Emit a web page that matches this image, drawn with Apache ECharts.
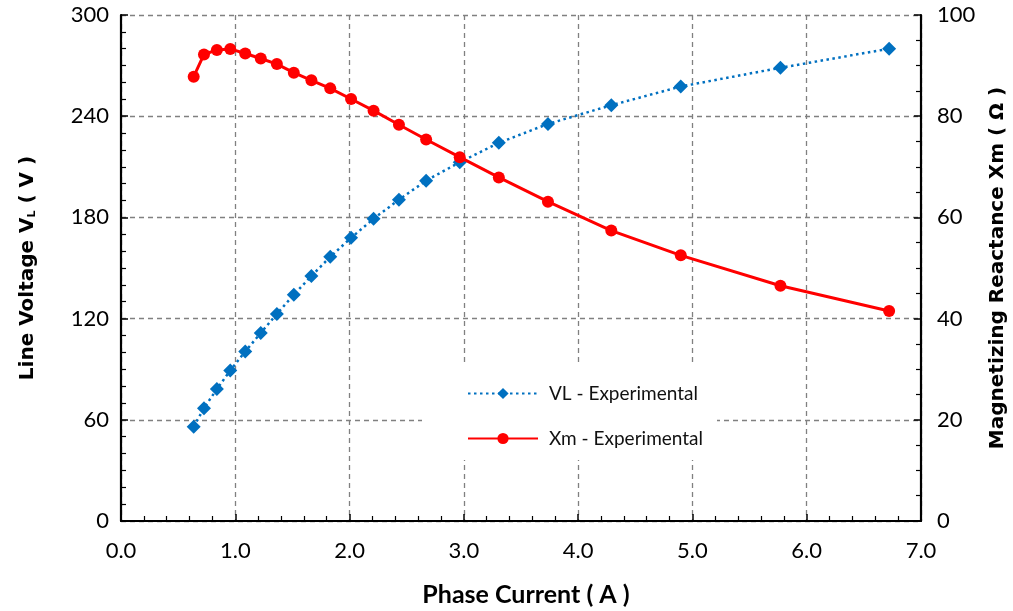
<!DOCTYPE html>
<html>
<head>
<meta charset="utf-8">
<script src="https://cdn.jsdelivr.net/npm/echarts@6/dist/echarts.min.js"></script>
<style>
html,body{margin:0;padding:0;background:#fff;}
#chart{width:1013px;height:611px;}
</style>
</head>
<body>
<div id="chart"></div>
<script>
// Phase current (A)
const current = [0.636, 0.726, 0.839, 0.956, 1.087, 1.223, 1.364, 1.512, 1.666, 1.831, 2.013, 2.210, 2.432, 2.670, 2.964, 3.306, 3.736, 4.290, 4.898, 5.770, 6.721];
// Line voltage VL (V)
const vlValues = [55.9, 66.9, 78.2, 89.3, 100.5, 111.5, 122.8, 134.1, 145.3, 156.6, 167.9, 179.2, 190.5, 201.8, 212.7, 224.2, 235.4, 246.5, 257.6, 268.7, 280.0];
// Magnetizing reactance Xm (ohm)
const xmValues = [87.8, 92.2, 93.1, 93.3, 92.4, 91.4, 90.3, 88.6, 87.1, 85.5, 83.4, 81.1, 78.3, 75.4, 71.9, 67.9, 63.1, 57.4, 52.5, 46.5, 41.5];
const seriesNames = ['VL - Experimental', 'Xm - Experimental'];

const FONT = 'Lato';
const TITLE_FONT = 'DejaVu Sans';
const chart = echarts.init(document.getElementById('chart'), null, {renderer: 'canvas'});

const gridLine = {show: true, lineStyle: {color: '#808080', type: [5, 4], width: 1.3}};
const axisLine = {show: true, onZero: false, lineStyle: {color: '#000', width: 2.2}};

chart.setOption({
  animation: false,
  backgroundColor: '#fff',
  grid: {left: 121, right: 92, top: 15, bottom: 90, containLabel: false, outerBoundsMode: 'none'},
  legend: {
    orient: 'vertical',
    left: 422,
    top: 362,
    backgroundColor: '#fff',
    padding: [22, 14, 12, 45],
    itemWidth: 70,
    itemHeight: 14,
    itemGap: 26,
    data: seriesNames,
    textStyle: {fontFamily: FONT, fontSize: 19, color: '#111', padding: [0, 0, 0, 6]}
  },
  xAxis: {
    type: 'value',
    min: 0, max: 7, interval: 1,
    name: 'Phase Current ( A )',
    nameLocation: 'middle',
    nameGap: 61,
    nameTextStyle: {fontFamily: FONT, fontSize: 25, fontWeight: 'bold', color: '#000', padding: [0, 0, 0, 10]},
    axisLine: axisLine,
    axisTick: {show: true, inside: true, length: 7, lineStyle: {color: '#000', width: 1.5}},
    minorTick: {show: true, splitNumber: 5, length: 5, lineStyle: {color: '#000', width: 1.2}},
    axisLabel: {fontFamily: FONT, fontSize: 22, color: '#000', margin: 19, formatter: v => v.toFixed(1)},
    splitLine: gridLine
  },
  yAxis: [{
    type: 'value',
    position: 'left',
    min: 0, max: 300, interval: 60,
    name: '{a|Line Voltage V}{s|L}{a| ( V )}',
    nameLocation: 'middle',
    nameGap: 83,
    nameRotate: 90,
    nameTextStyle: {
      rich: {
        a: {fontFamily: TITLE_FONT, fontSize: 20, fontWeight: 'bold', color: '#000', lineHeight: 24, verticalAlign: 'bottom'},
        s: {fontFamily: TITLE_FONT, fontSize: 11, fontWeight: 'bold', color: '#000', lineHeight: 18, verticalAlign: 'bottom'}
      }
    },
    axisLine: axisLine,
    axisTick: {show: true, inside: true, length: 7, lineStyle: {color: '#000', width: 1.5}},
    minorTick: {show: true, splitNumber: 6, length: 5, lineStyle: {color: '#000', width: 1.2}},
    axisLabel: {fontFamily: FONT, fontSize: 22, color: '#000', margin: 12},
    splitLine: gridLine
  }, {
    type: 'value',
    position: 'right',
    min: 0, max: 100, interval: 20,
    name: 'Magnetizing Reactance Xm ( Ω )',
    nameLocation: 'middle',
    nameGap: 67,
    nameRotate: 90,
    nameTextStyle: {fontFamily: TITLE_FONT, fontSize: 20, fontWeight: 'bold', color: '#000'},
    axisLine: axisLine,
    axisTick: {show: true, inside: true, length: 7, lineStyle: {color: '#000', width: 1.5}},
    minorTick: {show: true, splitNumber: 4, length: 5, lineStyle: {color: '#000', width: 1.2}},
    axisLabel: {fontFamily: FONT, fontSize: 22, color: '#000', margin: 16},
    splitLine: {show: false}
  }],
  series: [{
    name: seriesNames[0],
    type: 'line',
    yAxisIndex: 0,
    data: current.map((c, i) => [c, vlValues[i]]),
    symbol: 'diamond',
    symbolSize: 14,
    itemStyle: {color: '#0070C0'},
    lineStyle: {color: '#0070C0', width: 2.5, type: [2.5, 3.5]},
    z: 2
  }, {
    name: seriesNames[1],
    type: 'line',
    yAxisIndex: 1,
    data: current.map((c, i) => [c, xmValues[i]]),
    symbol: 'circle',
    symbolSize: 12,
    itemStyle: {color: '#FF0000'},
    lineStyle: {color: '#FF0000', width: 3},
    z: 3
  }]
});
</script>
</body>
</html>
